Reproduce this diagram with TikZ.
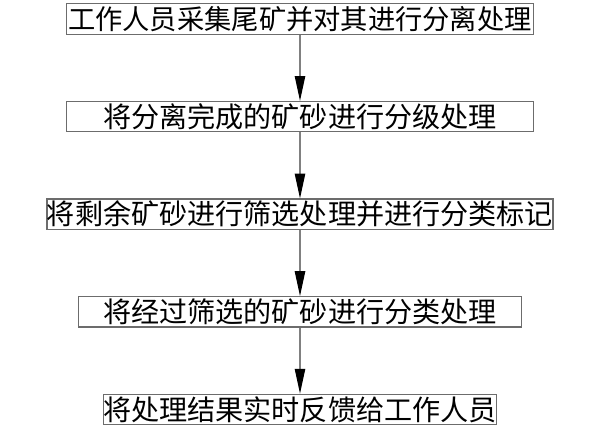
\documentclass[tikz,border=0pt]{standalone}
\usepackage{fontspec}
\usepackage{tikz}
\usetikzlibrary{arrows.meta}
\newfontfamily\cjk{Noto Sans CJK SC}

\begin{document}
\begin{tikzpicture}[node distance=2.44cm,
  stage/.style={draw=gray!85!black, line width=0.8pt, inner sep=0pt, minimum height=0.76cm,
    align=center, font=\cjk\fontsize{20pt}{20pt}\selectfont},
  flow/.style={draw=gray, line width=0.8pt, -{Triangle[length=6.2mm, width=2.6mm, black]}}]
\useasboundingbox (0,0) rectangle (15,-10.725);
\node[stage, minimum width=11.675cm, font=\cjk\fontsize{19.4pt}{20pt}\selectfont] (collect) at (7.5,-0.475)
{工作人员采集尾矿并对其进行分离处理};
\node[stage, minimum width=11.675cm, below of=collect] (grade)
{将分离完成的矿砂进行分级处理};
\node[stage, minimum width=12.35cm, below of=grade] (screen)
{将剩余矿砂进行筛选处理并进行分类标记};
\node[stage, minimum width=11.075cm, below of=screen] (sort)
{将经过筛选的矿砂进行分类处理};
\node[stage, minimum width=9.725cm, below of=sort] (feedback)
{将处理结果实时反馈给工作人员};
\draw[flow] (collect) -- (grade);
\draw[flow] (grade) -- (screen);
\draw[flow] (screen) -- (sort);
\draw[flow] (sort) -- (feedback);
\end{tikzpicture}
\end{document}
